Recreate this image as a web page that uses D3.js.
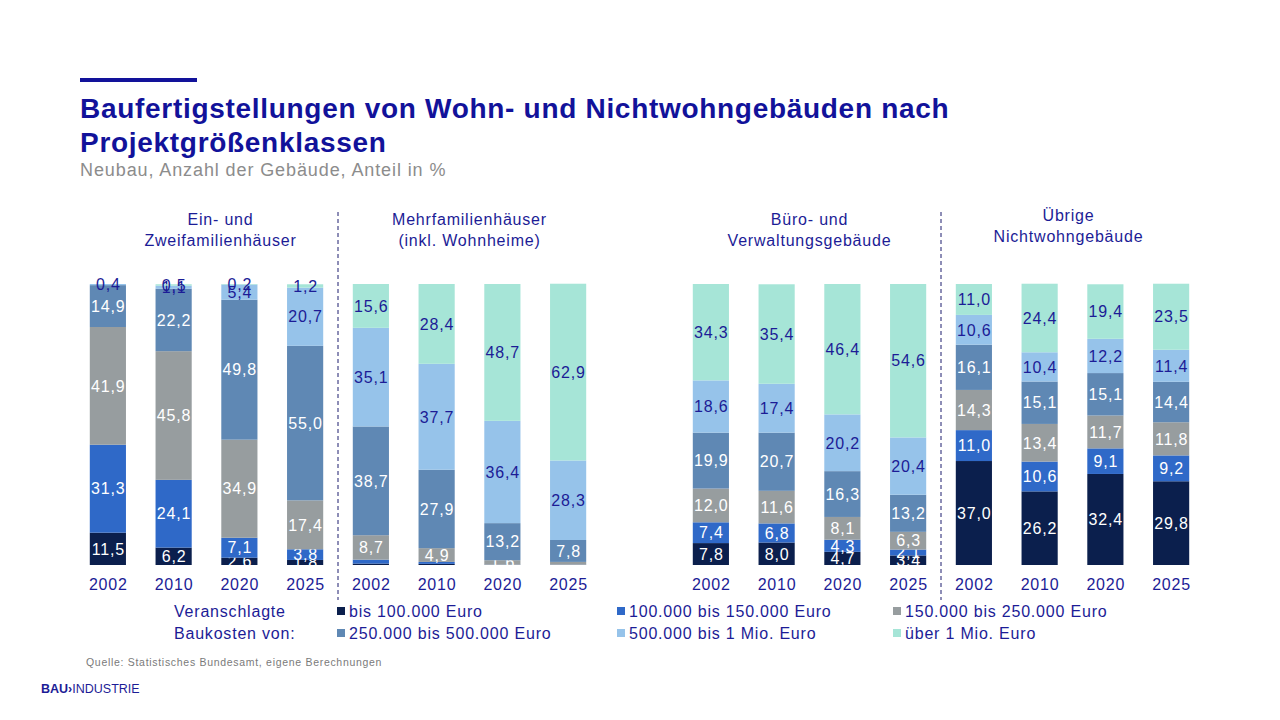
<!DOCTYPE html>
<html>
<head>
<meta charset="utf-8">
<script src="https://cdn.jsdelivr.net/npm/d3@7"></script>
<style>
  body { margin: 0; background: #fff; }
  svg { font-family: "Liberation Sans", Arial, sans-serif; }
</style>
</head>
<body>
<svg width="1280" height="720"></svg>
<script>
// categories
const years = ["2002", "2010", "2020", "2025"];
const groupTitles = [
  ["Ein- und", "Zweifamilienhäuser"],
  ["Mehrfamilienhäuser", "(inkl. Wohnheime)"],
  ["Büro- und", "Verwaltungsgebäude"],
  ["Übrige", "Nichtwohngebäude"],
];
const costClasses = [
  "bis 100.000 Euro",
  "100.000 bis 150.000 Euro",
  "150.000 bis 250.000 Euro",
  "250.000 bis 500.000 Euro",
  "500.000 bis 1 Mio. Euro",
  "über 1 Mio. Euro",
];
// shares in %, one row per year, one column per cost class
const efh = [
  [11.5, 31.3, 41.9, 14.9, 0.4, 0.0],
  [6.2, 24.1, 45.8, 22.2, 1.1, 0.5],
  [2.6, 7.1, 34.9, 49.8, 5.4, 0.2],
  [1.8, 3.8, 17.4, 55.0, 20.7, 1.2],
];
const mfh = [
  [0.5, 1.4, 8.7, 38.7, 35.1, 15.6],
  [0.4, 0.7, 4.9, 27.9, 37.7, 28.4],
  [0.0, 0.1, 1.6, 13.2, 36.4, 48.7],
  [0.0, 0.1, 1.0, 7.8, 28.3, 62.9],
];
const buero = [
  [7.8, 7.4, 12.0, 19.9, 18.6, 34.3],
  [8.0, 6.8, 11.6, 20.7, 17.4, 35.4],
  [4.7, 4.3, 8.1, 16.3, 20.2, 46.4],
  [3.4, 2.1, 6.3, 13.2, 20.4, 54.6],
];
const uebrige = [
  [37.0, 11.0, 14.3, 16.1, 10.6, 11.0],
  [26.2, 10.6, 13.4, 15.1, 10.4, 24.4],
  [32.4, 9.1, 11.7, 15.1, 12.2, 19.4],
  [29.8, 9.2, 11.8, 14.4, 11.4, 23.5],
];
const groupValues = [efh, mfh, buero, uebrige];
// smallest value that still gets a label, per group
const labelMin = [0.1, 1.5, 1, 1];

const colors = ["#0b1f4d", "#2f69c8", "#979d9f", "#5f88b4", "#96c3ea", "#a6e5d7"];
const darkBlue = "#1c1c96";
const fs = 16;
const ls = 0.8; // the slide font runs a bit wide

const svg = d3.select("svg");
const colorScale = d3.scaleOrdinal().domain(costClasses).range(colors);

// two panels: Wohngebäude (groups 0,1) and Nichtwohngebäude (groups 2,3)
const panels = [
  { groups: [0, 1], range: [75, 601] },
  { groups: [2, 3], range: [678, 1204] },
];
const y = d3.scaleLinear().domain([0, 100]).range([565, 284]);

const g = svg.append("g");
const stack = d3.stack().keys(d3.range(costClasses.length)).value((d, k) => d.values[k]);

panels.forEach((p) => {
  const slots = [];
  p.groups.forEach((gi) => years.forEach((yr, yi) => slots.push({ gi, yr, yi, key: gi + "-" + yr })));
  const x = d3.scaleBand().domain(slots.map((s) => s.key)).range(p.range).paddingInner(0.45).paddingOuter(0.225);

  const rows = slots.map((s) => ({ ...s, values: groupValues[s.gi][s.yi] }));
  const stacked = stack(rows);

  stacked.forEach((layer) => {
    const k = layer.key;
    g.append("g")
      .attr("fill", colors[k])
      .selectAll("rect")
      .data(layer)
      .join("rect")
      .attr("x", (d) => x(d.data.key))
      .attr("width", x.bandwidth())
      .attr("y", (d) => y(d[1]))
      .attr("height", (d) => y(d[0]) - y(d[1]));

    g.append("g")
      .selectAll("text")
      .data(layer.filter((d) => d.data.values[k] >= labelMin[d.data.gi]))
      .join("text")
      .attr("x", (d) => x(d.data.key) + x.bandwidth() / 2 + ls / 2)
      .attr("y", (d) => (y(d[0]) + y(d[1])) / 2)
      .attr("dy", "0.36em")
      .attr("text-anchor", "middle")
      .attr("font-size", fs)
      .attr("letter-spacing", ls)
      .attr("fill", k < 4 ? "#fff" : darkBlue)
      .text((d) => d3.format(".1f")(d.data.values[k]).replace(".", ","));
  });

  // year axis
  const axis = g.append("g")
    .attr("transform", "translate(0,572)")
    .call(d3.axisBottom(x).tickSize(0).tickPadding(7).tickFormat((k) => k.split("-")[1]));
  axis.select(".domain").remove();
  axis.selectAll("text")
    .attr("font-size", fs)
    .attr("letter-spacing", ls)
    .attr("dx", ls / 2)
    .attr("fill", darkBlue)
    .attr("font-family", "Liberation Sans, Arial, sans-serif");

  // group titles
  p.groups.forEach((gi) => {
    const first = x(gi + "-" + years[0]);
    const last = x(gi + "-" + years[years.length - 1]) + x.bandwidth();
    const cx = (first + last) / 2 + (gi === 0 ? 14 : gi === 3 ? -4 : 0);
    const ty = gi === 3 ? 221 : 225;
    g.append("text")
      .attr("x", cx)
      .attr("y", ty)
      .attr("text-anchor", "middle")
      .attr("font-size", fs)
      .attr("letter-spacing", ls)
      .attr("fill", darkBlue)
      .selectAll("tspan")
      .data(groupTitles[gi])
      .join("tspan")
      .attr("x", cx)
      .attr("dy", (d, i) => (i === 0 ? 0 : 21))
      .text((d) => d);
  });

  // dashed separator between the two groups of the panel
  const sep = (x(p.groups[0] + "-" + years[3]) + x.bandwidth() + x(p.groups[1] + "-" + years[0])) / 2;
  g.append("line")
    .attr("x1", sep).attr("x2", sep)
    .attr("y1", 212).attr("y2", 600)
    .attr("stroke", "#1c1c6e")
    .attr("stroke-width", 1)
    .attr("stroke-dasharray", "4,3");
});

// title block
svg.append("rect").attr("x", 80).attr("y", 78).attr("width", 117).attr("height", 4).attr("fill", "#12129a");
svg.append("text").attr("x", 80).attr("y", 118).attr("font-size", 28).attr("letter-spacing", 0.7)
  .attr("font-weight", "bold").attr("fill", "#12129a")
  .text("Baufertigstellungen von Wohn- und Nichtwohngebäuden nach");
svg.append("text").attr("x", 80).attr("y", 152).attr("font-size", 28).attr("letter-spacing", 0.7)
  .attr("font-weight", "bold").attr("fill", "#12129a")
  .text("Projektgrößenklassen");
svg.append("text").attr("x", 80).attr("y", 176).attr("font-size", 18).attr("letter-spacing", 0.9).attr("fill", "#8c8c8c")
  .text("Neubau, Anzahl der Gebäude, Anteil in %");

// legend
const legend = svg.append("g").attr("font-size", fs).attr("letter-spacing", ls).attr("fill", darkBlue);
legend.append("text").attr("x", 174).attr("y", 617).text("Veranschlagte");
legend.append("text").attr("x", 174).attr("y", 639).text("Baukosten von:");
const legendX = [337, 617, 893];
const item = legend.selectAll("g.item")
  .data(costClasses)
  .join("g")
  .attr("class", "item")
  .attr("transform", (d, i) => `translate(${legendX[i % 3]},${i < 3 ? 611 : 633})`);
item.append("rect").attr("x", 0).attr("y", -4).attr("width", 8).attr("height", 8).attr("fill", (d) => colorScale(d));
item.append("text").attr("x", 12).attr("y", 6).text((d) => d);

// source and logo
svg.append("text").attr("x", 86).attr("y", 666).attr("font-size", 10.5).attr("letter-spacing", 0.7).attr("fill", "#7a7a7a")
  .text("Quelle: Statistisches Bundesamt, eigene Berechnungen");
const logo = svg.append("text").attr("x", 41).attr("y", 693).attr("font-size", 12.5).attr("fill", "#1c1c96");
logo.append("tspan").attr("font-weight", "bold").text("BAU");
logo.append("tspan").attr("font-weight", "bold").text("\u203A");
logo.append("tspan").text("INDUSTRIE");
</script>
</body>
</html>
